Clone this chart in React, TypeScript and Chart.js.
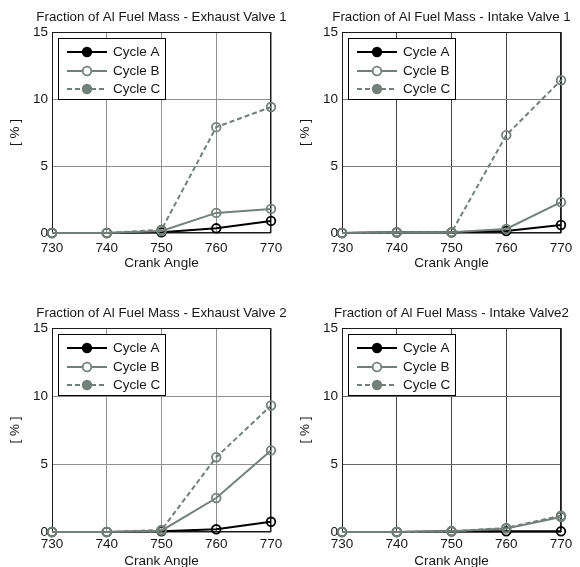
import React, { useEffect, useRef } from "react";
import { Chart, registerables } from "chart.js";

Chart.register(...registerables);

// ---------- data ----------
const crankAngles = [730, 740, 750, 760, 770];
const seriesNames = ["Cycle A", "Cycle B", "Cycle C"];
const xAxisLabel = "Crank Angle";
const yAxisLabel = "[ % ]";

const titleEV1 = "Fraction of Al Fuel Mass - Exhaust Valve 1";
const ev1CycleA = [0, 0, 0.05, 0.35, 0.9];
const ev1CycleB = [0, 0, 0.15, 1.5, 1.8];
const ev1CycleC = [0, 0, 0.25, 7.9, 9.4];

const titleIV1 = "Fraction of Al Fuel Mass - Intake Valve 1";
const iv1CycleA = [0, 0.05, 0.05, 0.15, 0.6];
const iv1CycleB = [0, 0.05, 0.05, 0.3, 2.3];
const iv1CycleC = [0, 0.05, 0.05, 7.3, 11.4];

const titleEV2 = "Fraction of Al Fuel Mass - Exhaust Valve 2";
const ev2CycleA = [0, 0, 0.05, 0.2, 0.75];
const ev2CycleB = [0, 0, 0.1, 2.5, 6.0];
const ev2CycleC = [0, 0, 0.15, 5.5, 9.3];

const titleIV2 = "Fraction of Al Fuel Mass - Intake Valve2";
const iv2CycleA = [0, 0, 0.05, 0.05, 0.05];
const iv2CycleB = [0, 0, 0.05, 0.25, 1.1];
const iv2CycleC = [0, 0, 0.05, 0.3, 1.2];

const yMin = 0;
const yMax = 15;
const yStep = 5;
const xMin = 730;
const xMax = 770;
const xStep = 10;

// ---------- styles ----------
const FONT = "'Liberation Sans', Arial, sans-serif";
const TEXT = "#161616";
const GRAY = "#728079";

type PanelProps = {
  title: string;
  a: number[];
  b: number[];
  c: number[];
  left: number;
  top: number;
  height: number;
  plotHeight: number;
  titleBottomPad: number;
  tickPad: number;
  gridX: string;
  gridY: string;
};

function Panel(p: PanelProps) {
  const ref = useRef<HTMLCanvasElement>(null);
  useEffect(() => {
    const canvas = ref.current!;
    const padTop = 32;
    const yAxisWidth = 52;
    const xAxisHeight = p.height - padTop - p.plotHeight;
    const styles = [
      { color: "#000000", dash: [] as number[], legendFill: "#000000" },
      { color: GRAY, dash: [] as number[], legendFill: "#ffffff" },
      { color: GRAY, dash: [5, 3], legendFill: GRAY },
    ];
    const values = [p.a, p.b, p.c];
    const datasets = values.map((v, i) => ({
      label: seriesNames[i],
      data: crankAngles.map((x, j) => ({ x, y: v[j] })),
      borderColor: styles[i].color,
      borderWidth: 2,
      borderDash: styles[i].dash,
      pointRadius: 4.3,
      pointHoverRadius: 4.3,
      pointBorderWidth: 1.8,
      pointBorderColor: styles[i].color,
      pointBackgroundColor: "rgba(0,0,0,0)",
      order: 2 - i,
      clip: false as any,
      tension: 0,
    }));

    const decor = {
      id: "decor",
      beforeDatasetsDraw(chart: any) {
        const { ctx, chartArea: ca } = chart;
        ctx.save();
        ctx.strokeStyle = "#1a1a1a";
        ctx.lineWidth = 1;
        ctx.strokeRect(
          Math.round(ca.left) + 0.5,
          Math.round(ca.top) + 0.5,
          Math.round(ca.right - ca.left) - 1,
          Math.round(ca.bottom - ca.top) - 1
        );
        ctx.restore();
      },
      afterDraw(chart: any) {
        const { ctx, chartArea: ca } = chart;
        ctx.save();
        // title
        ctx.fillStyle = TEXT;
        ctx.font = `13.3px ${FONT}`;
        ctx.textAlign = "center";
        ctx.textBaseline = "middle";
        ctx.fillText(p.title, (ca.left + ca.right) / 2, ca.top - 15);
        // legend
        const lx = Math.round(ca.left) + 6;
        const ly = Math.round(ca.top) + 6;
        const lw = 107;
        const lh = 61;
        ctx.fillStyle = "#ffffff";
        ctx.fillRect(lx, ly, lw, lh);
        ctx.strokeStyle = "#000";
        ctx.lineWidth = 1;
        ctx.strokeRect(lx + 0.5, ly + 0.5, lw, lh);
        const rows = [14, 33, 51];
        chart.data.datasets.forEach((ds: any, i: number) => {
          const y = ly + rows[i];
          ctx.strokeStyle = styles[i].color;
          ctx.lineWidth = 2;
          ctx.setLineDash(styles[i].dash);
          ctx.beginPath();
          ctx.moveTo(lx + 9, y);
          ctx.lineTo(lx + 49, y);
          ctx.stroke();
          ctx.setLineDash([]);
          ctx.beginPath();
          ctx.arc(lx + 29, y, 4.3, 0, Math.PI * 2);
          ctx.fillStyle = styles[i].legendFill;
          ctx.fill();
          ctx.lineWidth = 1.8;
          ctx.stroke();
          ctx.fillStyle = TEXT;
          ctx.font = `13.5px ${FONT}`;
          ctx.textAlign = "left";
          ctx.textBaseline = "middle";
          ctx.fillText(ds.label, lx + 55, y);
        });
        ctx.restore();
      },
    };

    const chart = new Chart(canvas, {
      type: "line",
      data: { datasets: datasets as any },
      options: {
        responsive: false,
        animation: false,
        devicePixelRatio: 1,
        layout: { padding: { top: padTop, right: 19, left: 0, bottom: 0 } },
        plugins: {
          legend: { display: false },
          tooltip: { enabled: false },
          title: { display: false },
        },
        scales: {
          x: {
            type: "linear",
            min: xMin,
            max: xMax,
            border: { display: false },
            grid: { color: p.gridX, lineWidth: 1, drawTicks: false },
            ticks: {
              stepSize: xStep,
              padding: p.tickPad,
              color: TEXT,
              font: { family: FONT, size: 13.5 },
              maxRotation: 0,
              callback: (v: any) => String(v),
            },
            title: {
              display: true,
              text: xAxisLabel,
              color: TEXT,
              font: { family: FONT, size: 13.5 },
              padding: { top: 0, bottom: p.titleBottomPad },
            },
            afterFit: (s: any) => {
              s.height = xAxisHeight;
            },
          },
          y: {
            type: "linear",
            min: yMin,
            max: yMax,
            border: { display: false },
            grid: { color: p.gridY, lineWidth: 1, drawTicks: false },
            ticks: {
              stepSize: yStep,
              padding: 4,
              color: TEXT,
              font: { family: FONT, size: 13.5 },
              callback: (v: any) => String(v),
            },
            title: {
              display: true,
              text: yAxisLabel,
              color: TEXT,
              font: { family: FONT, size: 13.5 },
              padding: { top: 7, bottom: 0 },
            },
            afterFit: (s: any) => {
              s.width = yAxisWidth;
            },
          },
        },
      },
      plugins: [decor],
    });
    return () => chart.destroy();
  }, []);
  return (
    <canvas
      ref={ref}
      width={290}
      height={p.height}
      style={{ position: "absolute", left: p.left, top: p.top, width: 290, height: p.height }}
    />
  );
}

export default function App() {
  return (
    <div
      style={{
        position: "fixed",
        left: 0,
        top: 0,
        width: 580,
        height: 567,
        overflow: "hidden",
        background: "#ffffff",
      }}
    >
      <Panel title={titleEV1} a={ev1CycleA} b={ev1CycleB} c={ev1CycleC}
        left={0} top={0} height={285} plotHeight={201} titleBottomPad={14} tickPad={7}
        gridX="#8f8f8f" gridY="#8f8f8f" />
      <Panel title={titleIV1} a={iv1CycleA} b={iv1CycleB} c={iv1CycleC}
        left={290} top={0} height={285} plotHeight={201} titleBottomPad={14} tickPad={7}
        gridX="#444444" gridY="#7a7a7a" />
      <Panel title={titleEV2} a={ev2CycleA} b={ev2CycleB} c={ev2CycleC}
        left={0} top={296} height={290} plotHeight={204} titleBottomPad={17} tickPad={4}
        gridX="#8f8f8f" gridY="#8f8f8f" />
      <Panel title={titleIV2} a={iv2CycleA} b={iv2CycleB} c={iv2CycleC}
        left={290} top={296} height={290} plotHeight={204} titleBottomPad={17} tickPad={4}
        gridX="#444444" gridY="#666666" />
    </div>
  );
}
